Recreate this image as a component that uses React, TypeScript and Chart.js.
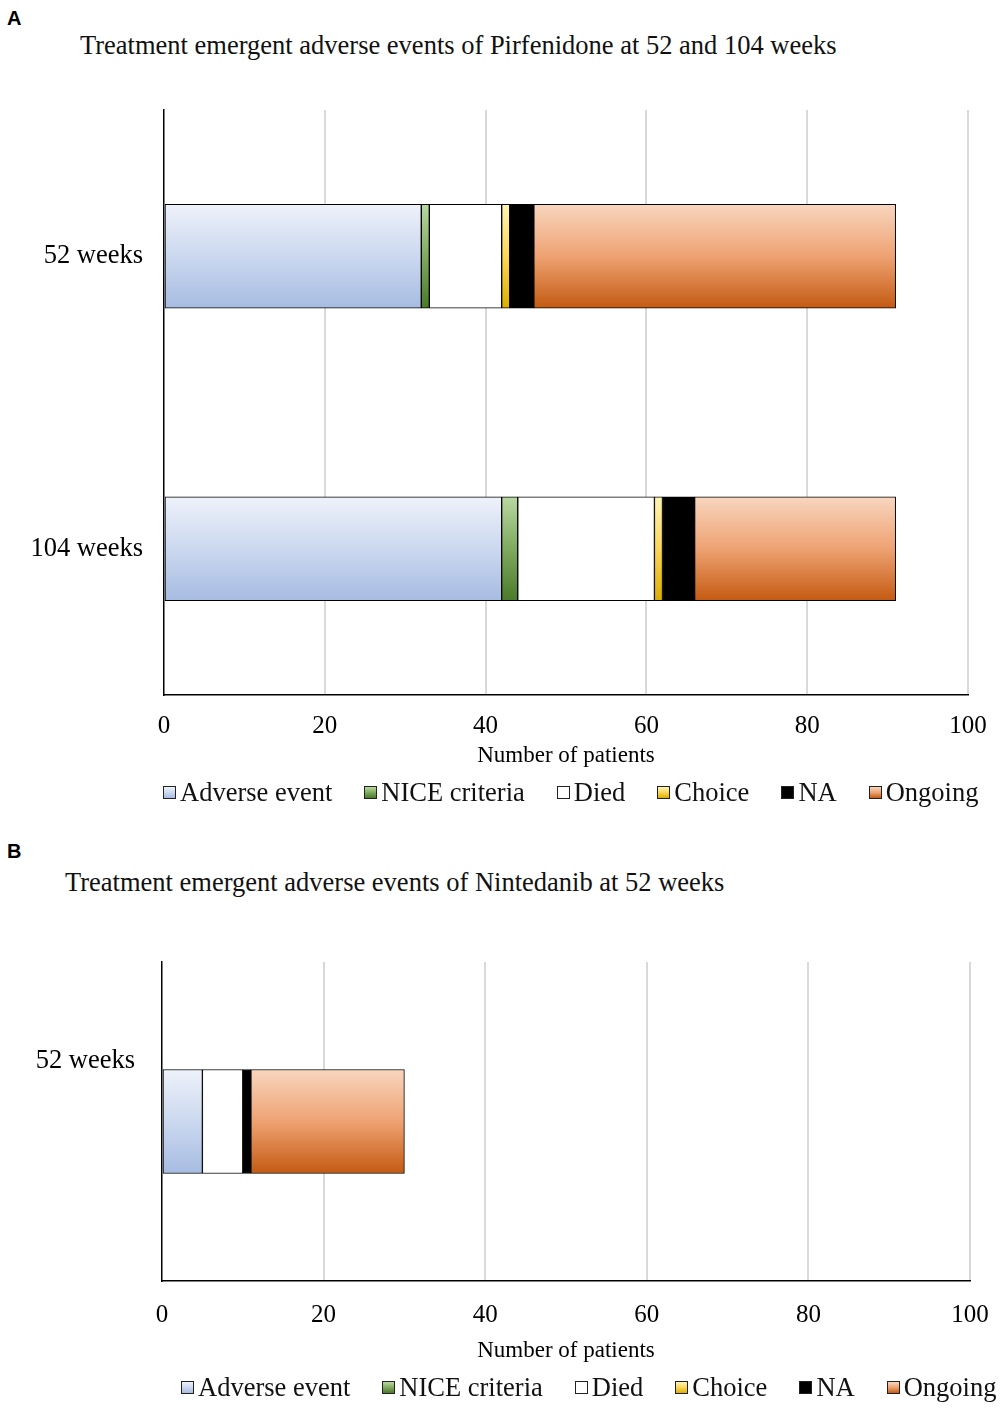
import { useEffect, useRef } from 'react'
import { Chart, registerables } from 'chart.js'

Chart.register(...registerables)

// categories
const pirfCategories = ['52 weeks', '104 weeks']
const nintCategories = ['52 weeks']
const seriesNames = ['Adverse event', 'NICE criteria', 'Died', 'Choice', 'NA', 'Ongoing']

// Pirfenidone (52, 104 weeks)
const pirfAdverse = [32, 42]
const pirfNice = [1, 2]
const pirfDied = [9, 17]
const pirfChoice = [1, 1]
const pirfNA = [3, 4]
const pirfOngoing = [45, 25]

// Nintedanib (52 weeks)
const nintAdverse = [5]
const nintNice = [0]
const nintDied = [5]
const nintChoice = [0]
const nintNA = [1]
const nintOngoing = [19]

const xMax = 100
const xStep = 20

const serif = '"Liberation Serif", "Times New Roman", serif'

// gradient stops per series, top -> bottom
const seriesStops = [
  ['#eef2fa', '#cbd8ef', '#a7bce2'],
  ['#b8d8a2', '#80aa5f', '#4b7a2a'],
  ['#ffffff', '#ffffff'],
  ['#fff4b5', '#fbd659', '#dcae00'],
  ['#000000', '#000000'],
  ['#f8d6bf', '#eea272', '#c45a12'],
]

function gradientFill(stops: string[], half: number) {
  return (ctx: any) => {
    const chart = ctx.chart
    const y = chart.scales?.y
    if (ctx.type !== 'data' || !y || !chart.chartArea) return stops[Math.floor(stops.length / 2)]
    const c = y.getPixelForValue(ctx.dataIndex)
    const g = chart.ctx.createLinearGradient(0, c - half, 0, c + half)
    stops.forEach((s, i) => g.addColorStop(i / (stops.length - 1), s))
    return g
  }
}

interface PanelProps {
  categories: string[]
  series: number[][]
  top: number
  height: number
  padTop: number
  padRight: number
  leftWidth: number
  axisHeight: number
  tickPad: number
  titlePad: number
  labelOffset: number
  yLabelPad: number
}

function Panel(p: PanelProps) {
  const chartRef = useRef<HTMLCanvasElement>(null)

  useEffect(() => {
    if (!chartRef.current) return
    const ctx = chartRef.current.getContext('2d')
    if (!ctx) return
    const thickness = 104

    const chart = new Chart(ctx, {
      type: 'bar',
      data: {
        labels: p.categories,
        datasets: seriesNames.map((name, i) => ({
          label: name,
          data: p.series[i],
          backgroundColor: gradientFill(seriesStops[i], thickness / 2),
          borderColor: '#000',
          borderWidth: 1,
          borderSkipped: false,
          barThickness: thickness,
        })),
      },
      options: {
        indexAxis: 'y',
        animation: false,
        responsive: true,
        maintainAspectRatio: false,
        layout: { padding: { top: p.padTop, right: p.padRight, left: 0, bottom: 0 } },
        plugins: {
          legend: { display: false },
          tooltip: { enabled: false },
        },
        scales: {
          x: {
            stacked: true,
            min: 0,
            max: xMax,
            ticks: { stepSize: xStep, color: '#000', padding: p.tickPad, font: { family: serif, size: 25 } },
            grid: {
              color: (c: any) => (c.index === 0 ? 'rgba(0,0,0,0)' : '#d9d9d9'),
              lineWidth: 2,
              drawTicks: false,
            },
            border: { color: '#000', width: 1.5 },
            title: {
              display: true,
              text: 'Number of patients',
              color: '#000',
              font: { family: serif, size: 23 },
              padding: { top: 0, bottom: p.titlePad },
            },
            afterFit: (s: any) => {
              s.height = p.axisHeight
              s.paddingRight = 0
              s.paddingLeft = 0
            },
          },
          y: {
            stacked: true,
            grid: { display: false, drawTicks: false },
            border: { color: '#000', width: 1.5 },
            ticks: {
              color: '#000',
              padding: p.yLabelPad,
              labelOffset: p.labelOffset,
              font: { family: serif, size: 26.5 },
            },
            afterFit: (s: any) => { s.width = p.leftWidth },
          },
        },
      },
    } as any)

    return () => chart.destroy()
  }, [])

  return (
    <div style={{ position: 'absolute', left: 0, top: p.top, width: 1000, height: p.height }}>
      <canvas ref={chartRef} />
    </div>
  )
}

function Legend({ left, top }: { left: number; top: number }) {
  return (
    <div style={{ position: 'absolute', left, top, display: 'flex', alignItems: 'center', gap: 32, height: 30 }}>
      {seriesNames.map((name, i) => (
        <div key={name} style={{ display: 'flex', alignItems: 'center' }}>
          <span
            style={{
              width: 11,
              height: 11,
              border: '1px solid #222',
              background: `linear-gradient(to bottom, ${seriesStops[i].join(', ')})`,
              marginRight: 4,
            }}
          />
          <span style={{ fontFamily: serif, fontSize: 26.5, color: '#111', lineHeight: '30px', whiteSpace: 'nowrap' }}>
            {name}
          </span>
        </div>
      ))}
    </div>
  )
}

const letterStyle = {
  position: 'absolute' as const,
  left: 7,
  fontFamily: '"Liberation Sans", Arial, sans-serif',
  fontWeight: 'bold' as const,
  fontSize: 20,
  lineHeight: '22px',
}

const titleStyle = {
  position: 'absolute' as const,
  fontFamily: serif,
  fontSize: 26.5,
  lineHeight: '30px',
  color: '#111',
  whiteSpace: 'nowrap' as const,
}

export default function App() {
  return (
    <div style={{ position: 'absolute', left: 0, top: 0, width: 1000, height: 1408, background: '#fff', overflow: 'hidden' }}>
      <div style={{ ...letterStyle, top: 7 }}>A</div>
      <div style={{ ...titleStyle, left: 80, top: 30 }}>
        Treatment emergent adverse events of Pirfenidone at 52 and 104 weeks
      </div>
      <Panel
        categories={pirfCategories}
        series={[pirfAdverse, pirfNice, pirfDied, pirfChoice, pirfNA, pirfOngoing]}
        top={0}
        height={780}
        padTop={110}
        padRight={32}
        leftWidth={164}
        axisHeight={85}
        tickPad={16}
        titlePad={10}
        labelOffset={0}
        yLabelPad={21}
      />
      <Legend left={163} top={777} />

      <div style={{ ...letterStyle, top: 840 }}>B</div>
      <div style={{ ...titleStyle, left: 65, top: 867 }}>
        Treatment emergent adverse events of Nintedanib at 52 weeks
      </div>
      <Panel
        categories={nintCategories}
        series={[nintAdverse, nintNice, nintDied, nintChoice, nintNA, nintOngoing]}
        top={900}
        height={480}
        padTop={62}
        padRight={30}
        leftWidth={162}
        axisHeight={99}
        tickPad={19}
        titlePad={15}
        labelOffset={-60}
        yLabelPad={27}
      />
      <Legend left={181} top={1372} />
    </div>
  )
}
